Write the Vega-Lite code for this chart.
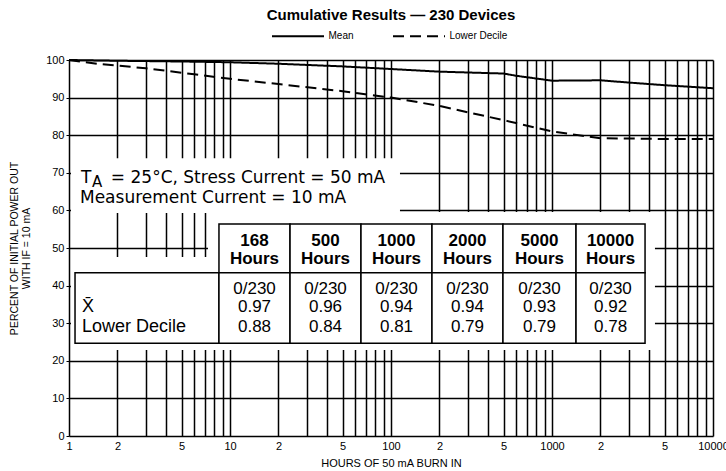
{
  "$schema": "https://vega.github.io/schema/vega-lite/v6.json",
  "width": 644,
  "height": 376,
  "autosize": {"type": "none"},
  "padding": {"left": 69, "top": 60, "right": 13, "bottom": 35},
  "background": "white",
  "title": {"text": "Cumulative Results — 230 Devices", "font": "Liberation Sans", "fontSize": 15, "fontWeight": "bold", "color": "black", "anchor": "middle", "frame": "group", "offset": 6},
  "config": {"view": {"stroke": null}, "font": "Liberation Sans"},
  "datasets": {
    "masks": [
      {"h": 1.029, "h2": 113.7, "v": 73.9, "v2": 59.3},
      {"h": 7.3, "h2": 4360, "v": 59.6, "v2": 22.9},
      {"h": 1.029, "h2": 7.3, "v": 47.6, "v2": 22.9}
    ],
    "series": [
      {"h": 1, "v": 100, "series": "Mean"},
      {"h": 2, "v": 99.8, "series": "Mean"},
      {"h": 5, "v": 99.6, "series": "Mean"},
      {"h": 10, "v": 99.4, "series": "Mean"},
      {"h": 20, "v": 99.0, "series": "Mean"},
      {"h": 50, "v": 98.3, "series": "Mean"},
      {"h": 100, "v": 97.6, "series": "Mean"},
      {"h": 200, "v": 96.9, "series": "Mean"},
      {"h": 500, "v": 96.4, "series": "Mean"},
      {"h": 600, "v": 95.8, "series": "Mean"},
      {"h": 1000, "v": 94.5, "series": "Mean"},
      {"h": 2000, "v": 94.6, "series": "Mean"},
      {"h": 3000, "v": 94.0, "series": "Mean"},
      {"h": 5000, "v": 93.3, "series": "Mean"},
      {"h": 10000, "v": 92.5, "series": "Mean"},
      {"h": 1, "v": 100, "series": "Lower Decile"},
      {"h": 1.5, "v": 99, "series": "Lower Decile"},
      {"h": 3, "v": 97.8, "series": "Lower Decile"},
      {"h": 6, "v": 96.2, "series": "Lower Decile"},
      {"h": 10, "v": 95, "series": "Lower Decile"},
      {"h": 20, "v": 93.6, "series": "Lower Decile"},
      {"h": 50, "v": 91.7, "series": "Lower Decile"},
      {"h": 100, "v": 90, "series": "Lower Decile"},
      {"h": 200, "v": 87.8, "series": "Lower Decile"},
      {"h": 300, "v": 86.1, "series": "Lower Decile"},
      {"h": 500, "v": 84, "series": "Lower Decile"},
      {"h": 1000, "v": 81, "series": "Lower Decile"},
      {"h": 2000, "v": 79.2, "series": "Lower Decile"},
      {"h": 5000, "v": 79, "series": "Lower Decile"},
      {"h": 10000, "v": 79, "series": "Lower Decile"}
    ],
    "cells": [
      {"h": 8.54, "h2": 23.6, "v": 56.4, "v2": 43.4},
      {"h": 23.6, "h2": 65.1, "v": 56.4, "v2": 43.4},
      {"h": 65.1, "h2": 179.7, "v": 56.4, "v2": 43.4},
      {"h": 179.7, "h2": 496, "v": 56.4, "v2": 43.4},
      {"h": 496, "h2": 1410, "v": 56.4, "v2": 43.4},
      {"h": 1410, "h2": 3784, "v": 56.4, "v2": 43.4},
      {"h": 1.09, "h2": 8.54, "v": 43.4, "v2": 24.7},
      {"h": 8.54, "h2": 23.6, "v": 43.4, "v2": 24.7},
      {"h": 23.6, "h2": 65.1, "v": 43.4, "v2": 24.7},
      {"h": 65.1, "h2": 179.7, "v": 43.4, "v2": 24.7},
      {"h": 179.7, "h2": 496, "v": 43.4, "v2": 24.7},
      {"h": 496, "h2": 1410, "v": 43.4, "v2": 24.7},
      {"h": 1410, "h2": 3784, "v": 43.4, "v2": 24.7}
    ],
    "headers": [
      {"h": 14.2, "v": 51.9, "t": "168"},
      {"h": 39.2, "v": 51.9, "t": "500"},
      {"h": 108.2, "v": 51.9, "t": "1000"},
      {"h": 298.6, "v": 51.9, "t": "2000"},
      {"h": 836, "v": 51.9, "t": "5000"},
      {"h": 2310, "v": 51.9, "t": "10000"},
      {"h": 14.2, "v": 47.1, "t": "Hours"},
      {"h": 39.2, "v": 47.1, "t": "Hours"},
      {"h": 108.2, "v": 47.1, "t": "Hours"},
      {"h": 298.6, "v": 47.1, "t": "Hours"},
      {"h": 836, "v": 47.1, "t": "Hours"},
      {"h": 2310, "v": 47.1, "t": "Hours"}
    ],
    "body": [
      {"h": 14.2, "v": 39.1, "t": "0/230"},
      {"h": 39.2, "v": 39.1, "t": "0/230"},
      {"h": 108.2, "v": 39.1, "t": "0/230"},
      {"h": 298.6, "v": 39.1, "t": "0/230"},
      {"h": 836, "v": 39.1, "t": "0/230"},
      {"h": 2310, "v": 39.1, "t": "0/230"},
      {"h": 14.2, "v": 34.3, "t": "0.97"},
      {"h": 39.2, "v": 34.3, "t": "0.96"},
      {"h": 108.2, "v": 34.3, "t": "0.94"},
      {"h": 298.6, "v": 34.3, "t": "0.94"},
      {"h": 836, "v": 34.3, "t": "0.93"},
      {"h": 2310, "v": 34.3, "t": "0.92"},
      {"h": 14.2, "v": 29.0, "t": "0.88"},
      {"h": 39.2, "v": 29.0, "t": "0.84"},
      {"h": 108.2, "v": 29.0, "t": "0.81"},
      {"h": 298.6, "v": 29.0, "t": "0.79"},
      {"h": 836, "v": 29.0, "t": "0.79"},
      {"h": 2310, "v": 29.0, "t": "0.78"}
    ],
    "rowlabels": [
      {"h": 1.204, "v": 34.3, "t": "X\u0304"},
      {"h": 1.204, "v": 29.0, "t": "Lower Decile"}
    ],
    "notes": [
      {"h": 1.187, "v": 67.3, "t": "T"},
      {"h": 1.82, "v": 67.3, "t": "= 25°C, Stress Current = 50 mA"},
      {"h": 1.170, "v": 62.0, "t": "Measurement Current = 10 mA"}
    ],
    "subs": [
      {"h": 1.389, "v": 66.3, "t": "A"}
    ]
  },
  "layer": [
    {
      "data": {"name": "masks"},
      "mark": {"type": "rect", "fill": "white", "stroke": null},
      "encoding": {
        "x": {
          "field": "h", "type": "quantitative",
          "scale": {"type": "log", "domain": [1, 10000], "nice": false},
          "axis": {
            "values": [1,2,3,4,5,6,7,8,9,10,20,30,40,50,60,70,80,90,100,200,300,400,500,600,700,800,900,1000,2000,3000,4000,5000,6000,7000,8000,9000,10000],
            "format": "d",
            "labelExpr": "indexof([1,10,100,1000,10000], datum.value) >= 0 ? datum.label : (indexof([2,20,200,2000], datum.value) >= 0 ? '2' : (indexof([5,50,500,5000], datum.value) >= 0 ? '5' : ''))",
            "grid": true, "gridColor": "black", "gridWidth": 1.5, "gridOpacity": 1,
            "domain": false, "ticks": false,
            "labelFont": "Liberation Sans", "labelFontSize": 11, "labelColor": "black", "labelPadding": 4,
            "labelFlush": false, "labelOverlap": false, "labelBound": false,
            "title": "HOURS OF 50 mA BURN IN", "titleFont": "Liberation Sans", "titleFontSize": 11, "titleFontWeight": "normal", "titleColor": "black", "titlePadding": 6
          }
        },
        "x2": {"field": "h2"},
        "y": {
          "field": "v", "type": "quantitative",
          "scale": {"domain": [0, 100], "nice": false, "zero": false},
          "axis": {
            "values": [0,10,20,30,40,50,60,70,80,90,100],
            "tickCount": 11,
            "grid": true, "gridColor": "black", "gridWidth": 1.5, "gridOpacity": 1,
            "domain": false, "ticks": true, "tickSize": 3, "tickColor": "black", "tickWidth": 1,
            "labelOverlap": false, "labelFlush": false, "labelBound": false,
            "labelFont": "Liberation Sans", "labelFontSize": 11, "labelColor": "black", "labelPadding": 2,
            "title": ["PERCENT OF INITIAL POWER OUT", "WITH IF = 10 mA"], "titleFont": "Liberation Sans", "titleFontSize": 10.5, "titleFontWeight": "normal", "titleColor": "black", "titlePadding": 14
          }
        },
        "y2": {"field": "v2"}
      }
    },
    {
      "data": {"name": "series"},
      "mark": {"type": "line", "stroke": "black", "strokeWidth": 2},
      "encoding": {
        "x": {"field": "h", "type": "quantitative"},
        "y": {"field": "v", "type": "quantitative"},
        "strokeDash": {
          "field": "series", "type": "nominal",
          "scale": {"domain": ["Mean", "Lower Decile"], "range": [[1, 0], [11, 6]]},
          "legend": {
            "orient": "none", "legendX": 221.5, "legendY": -31.5, "direction": "horizontal", "title": null,
            "symbolType": "M-4,0H4", "symbolSize": 169, "symbolStrokeWidth": 2, "symbolStrokeColor": "black", "symbolFillColor": "transparent",
            "labelFont": "Liberation Sans", "labelFontSize": 10, "labelColor": "black", "labelOffset": 23, "columnPadding": 34
          }
        }
      }
    },
    {
      "data": {"name": "cells"},
      "mark": {"type": "rect", "fill": "white", "stroke": "black", "strokeWidth": 1.5},
      "encoding": {
        "x": {"field": "h", "type": "quantitative"},
        "x2": {"field": "h2"},
        "y": {"field": "v", "type": "quantitative"},
        "y2": {"field": "v2"}
      }
    },
    {
      "data": {"name": "headers"},
      "mark": {"type": "text", "font": "Liberation Sans", "fontSize": 17, "fontWeight": "bold", "align": "center", "baseline": "middle", "color": "black"},
      "encoding": {
        "x": {"field": "h", "type": "quantitative"},
        "y": {"field": "v", "type": "quantitative"},
        "text": {"field": "t"}
      }
    },
    {
      "data": {"name": "body"},
      "mark": {"type": "text", "font": "Liberation Sans", "fontSize": 17, "align": "center", "baseline": "middle", "color": "black"},
      "encoding": {
        "x": {"field": "h", "type": "quantitative"},
        "y": {"field": "v", "type": "quantitative"},
        "text": {"field": "t"}
      }
    },
    {
      "data": {"name": "rowlabels"},
      "mark": {"type": "text", "font": "Liberation Sans", "fontSize": 18, "align": "left", "baseline": "middle", "color": "black"},
      "encoding": {
        "x": {"field": "h", "type": "quantitative"},
        "y": {"field": "v", "type": "quantitative"},
        "text": {"field": "t"}
      }
    },
    {
      "data": {"name": "notes"},
      "mark": {"type": "text", "font": "DejaVu Sans", "fontSize": 17, "align": "left", "baseline": "alphabetic", "color": "black"},
      "encoding": {
        "x": {"field": "h", "type": "quantitative"},
        "y": {"field": "v", "type": "quantitative"},
        "text": {"field": "t"}
      }
    },
    {
      "data": {"name": "subs"},
      "mark": {"type": "text", "font": "DejaVu Sans", "fontSize": 15, "align": "left", "baseline": "alphabetic", "color": "black"},
      "encoding": {
        "x": {"field": "h", "type": "quantitative"},
        "y": {"field": "v", "type": "quantitative"},
        "text": {"field": "t"}
      }
    }
  ]
}
